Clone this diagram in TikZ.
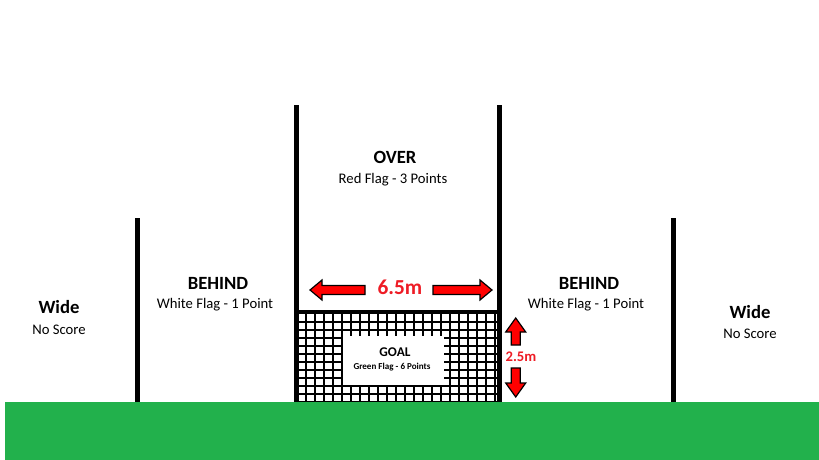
\documentclass[tikz,border=0pt]{standalone}
\usepackage{fontspec}
\setmainfont{Carlito}
\definecolor{grass}{HTML}{22B14C}
\definecolor{arrred}{HTML}{FF0000}
\definecolor{txtred}{HTML}{EE1C25}
\begin{document}
\begin{tikzpicture}[x=0.75pt,y=-0.75pt,
  title/.style={font=\fontsize{14}{16}\selectfont\bfseries,anchor=base,inner sep=0pt},
  sub/.style={font=\fontsize{11}{13}\selectfont,anchor=base,inner sep=0pt},
  post/.style={fill=black,draw=none},
  netline/.style={line width=1.5pt,black},
  arrowshape/.style={fill=arrred,draw=black,line width=0.9pt,line join=miter},
  measure/.style={font=\bfseries,text=txtred,anchor=base,inner sep=0pt}]
\useasboundingbox (0,0) rectangle (819,460);
\fill[white] (0,0) rectangle (819,460);
% net
\begin{scope}
\clip (298.5,314) rectangle (497,402);
\foreach \x in {0,...,22} \draw[netline] (305.5+9*\x,314) -- (305.5+9*\x,402);
\foreach \y in {0,...,10} \draw[netline] (298,322+8*\y) -- (498,322+8*\y);
\end{scope}
\fill[white] (343,336) rectangle (444,385);
% ground
\fill[grass] (5,402) rectangle (819,460);
% posts
\fill[post] (294,105) rectangle (298.7,402);
\fill[post] (497,105) rectangle (501.7,402);
\fill[post] (135,218) rectangle (139.6,402);
\fill[post] (671,218) rectangle (675.6,402);
% crossbar
\fill[post] (294,309.7) rectangle (501.7,314);
% horizontal measurement arrow
\draw[arrowshape] (310,290) -- (322,280) -- (322,285.5) -- (365,285.5) -- (365,294.5) -- (322,294.5) -- (322,300) -- cycle;
\draw[arrowshape] (492,290) -- (480,280) -- (480,285.5) -- (433,285.5) -- (433,294.5) -- (480,294.5) -- (480,300) -- cycle;
\node[measure,font=\fontsize{16}{18}\selectfont\bfseries] (w65) at (400,294.3) {6.5m};
% vertical measurement arrow
\draw[arrowshape] (515.7,318) -- (505.7,332) -- (511.2,332) -- (511.2,345) -- (520.2,345) -- (520.2,332) -- (525.7,332) -- cycle;
\draw[arrowshape] (515.7,397) -- (505.7,383) -- (511.2,383) -- (511.2,368) -- (520.2,368) -- (520.2,383) -- (525.7,383) -- cycle;
\node[measure,font=\fontsize{11}{13}\selectfont\bfseries] (h25) at (521,361) {2.5m};
% labels
\node[title] (over) at (395,164) {OVER};
\node[sub] (overs) at (393,183.5) {Red Flag - 3 Points};
\node[title] (behl) at (218,289.3) {BEHIND};
\node[sub] (behls) at (215,308.3) {White Flag - 1 Point};
\node[title] (behr) at (589,290) {BEHIND};
\node[sub] (behrs) at (586,309) {White Flag - 1 Point};
\node[title] (widel) at (59,314) {Wide};
\node[sub] (widels) at (59,334.3) {No Score};
\node[title] (wider) at (750,318.3) {Wide};
\node[sub] (widers) at (750,338.3) {No Score};
\node[title,font=\fontsize{10}{12}\selectfont\bfseries] (goal) at (395,356.7) {GOAL};
\node[sub,font=\fontsize{6.8}{8}\selectfont\bfseries] (goals) at (392,369.3) {Green Flag - 6 Points};
\end{tikzpicture}
\end{document}
